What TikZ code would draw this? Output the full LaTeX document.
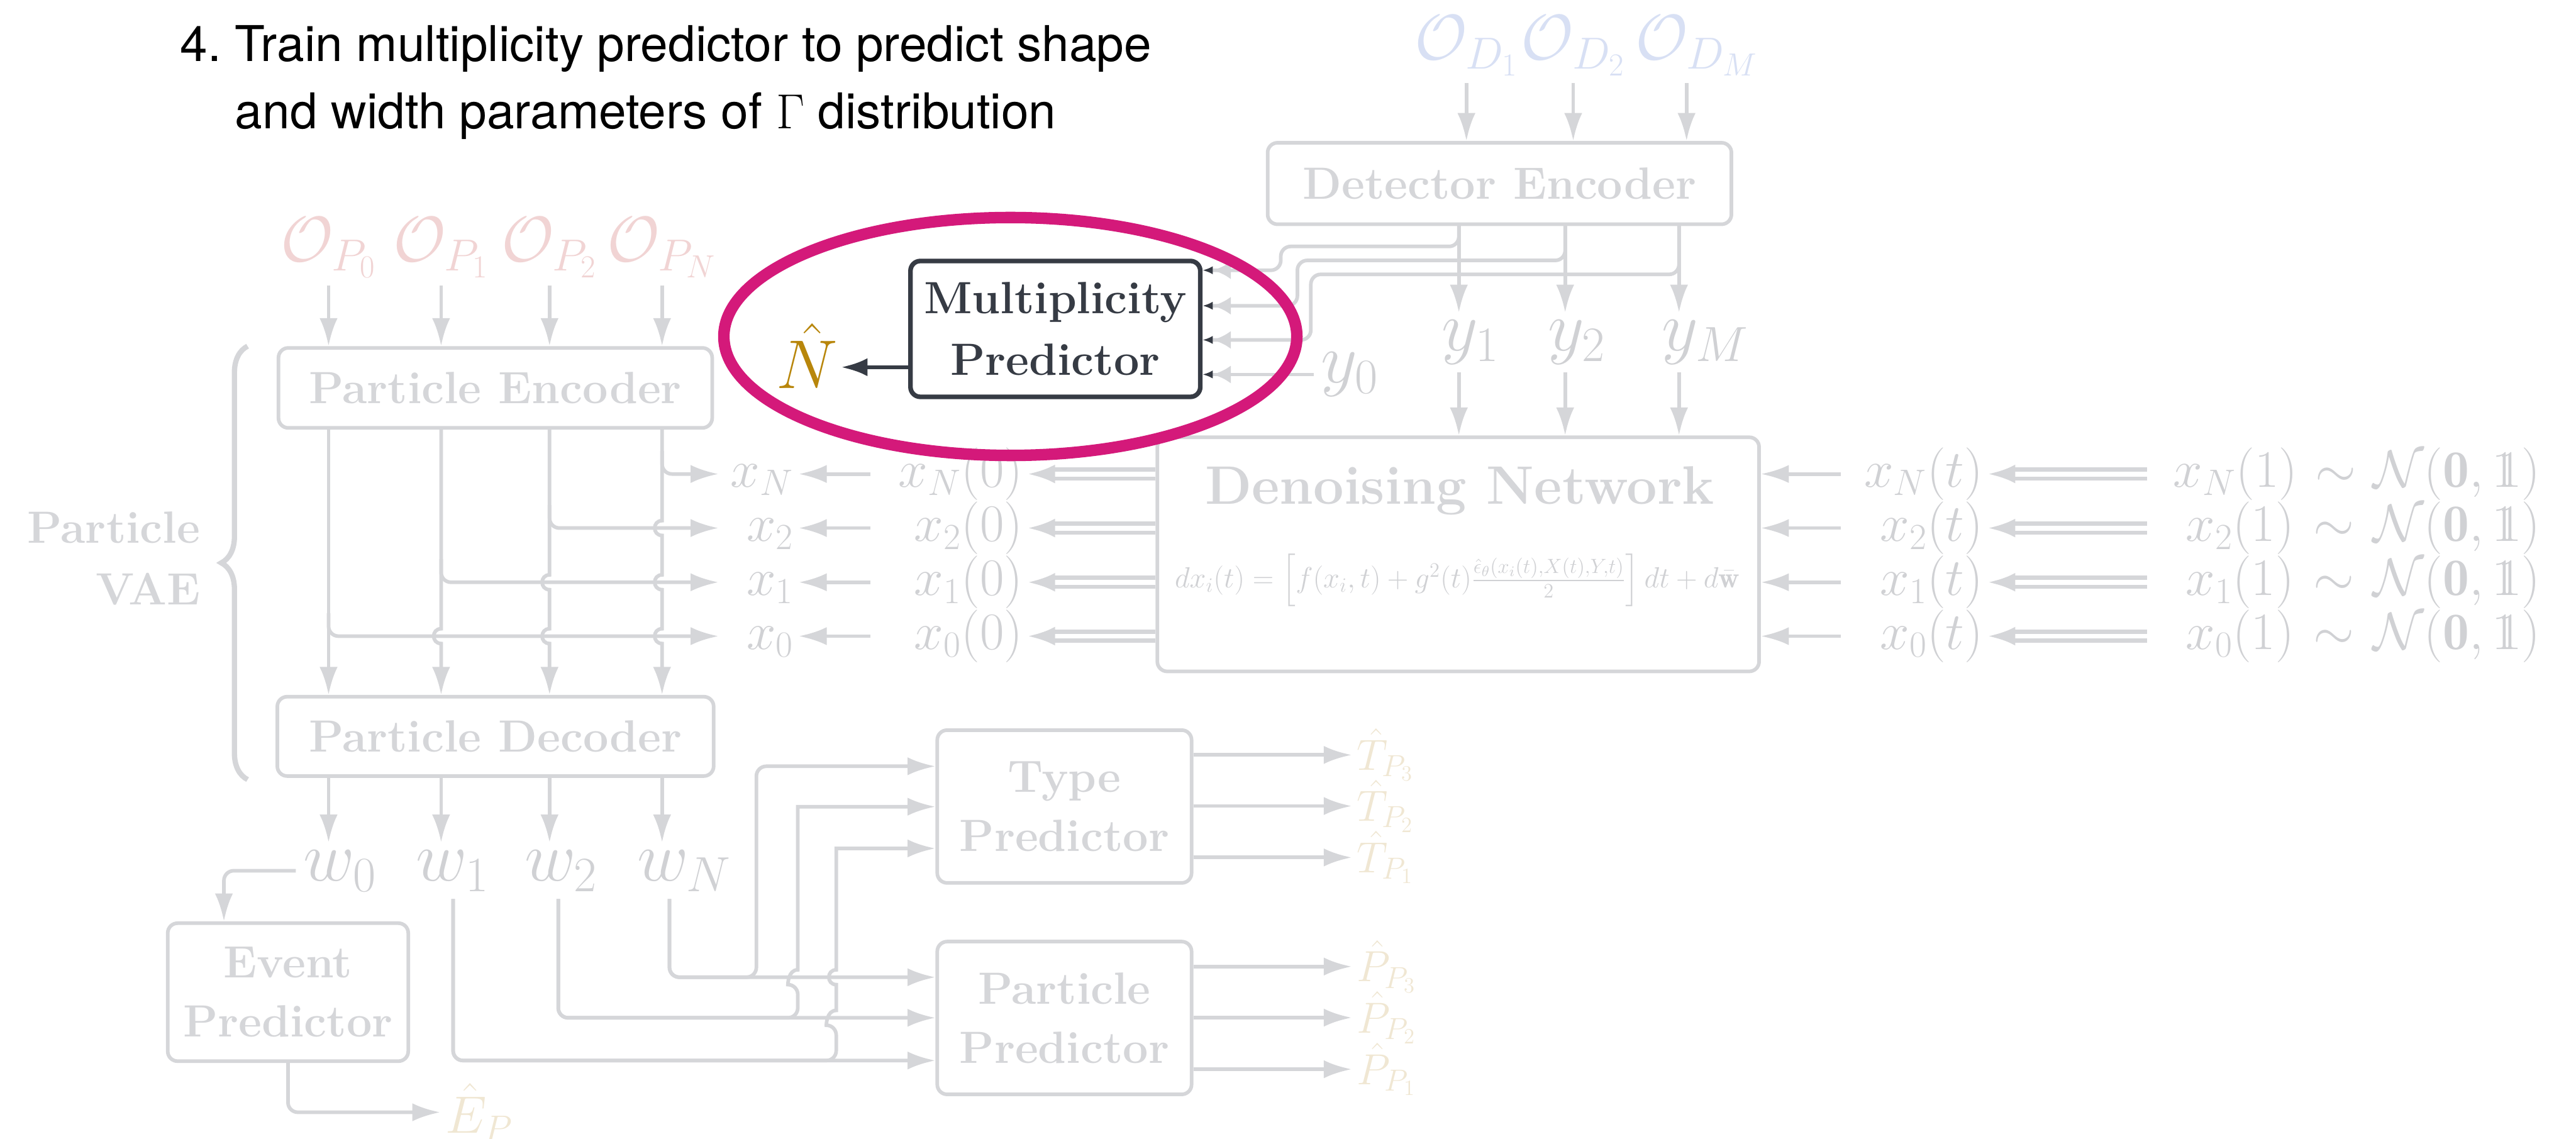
\RequirePackage{fix-cm}
\documentclass[tikz,border=0pt]{standalone}
\usepackage{amsmath,amssymb}
\usepackage{fontspec}
\newfontfamily\titlefont{TeX Gyre Heros}
\usepackage{tikz}
\usetikzlibrary{positioning,arrows.meta,calc,decorations.pathreplacing}
\newcommand{\dsone}{\mathrm{1\mkern-6.5mu1}}
\definecolor{fade}{HTML}{D5D6D9}
\definecolor{fadetext}{HTML}{D0D1D4}
\definecolor{pinkfade}{HTML}{F1D4D4}
\definecolor{bluefade}{HTML}{D8E0F4}
\definecolor{creamfade}{HTML}{F0E7D3}
\definecolor{goldc}{HTML}{B8860B}
\definecolor{darkc}{HTML}{363B44}
\definecolor{ringc}{HTML}{D4197A}
\tikzset{
  gbox/.style  ={rectangle, rounded corners=6pt, draw=fade, line width=2.2pt,
                 fill=white, text=fade, align=center, inner sep=2pt,
                 font=\bfseries\fontsize{27.5}{36}\selectfont},
  hbox/.style  ={gbox, draw=darkc, text=darkc, line width=2.8pt,
                 font=\bfseries\fontsize{27.5}{37.5}\selectfont},
  garr/.style  ={-{Latex[length=17pt,width=11pt]}, draw=fade, line width=2.2pt},
  dblarr/.style={-{Latex[length=16.5pt,width=11.5pt]}, draw=fade, line width=2.5pt,
                 double=white, double distance=3pt},
  inarr/.style ={-{Latex[length=11pt,width=11pt] Latex[length=6.2pt,width=5pt,color=darkc]},
                 draw=fade, line width=2.2pt},
  darr/.style  ={-{Latex[length=16pt,width=11pt]}, draw=darkc, line width=2.5pt},
  bigm/.style  ={text=fadetext, inner sep=4.5pt, font=\fontsize{43}{50}\selectfont},
  rowm/.style  ={text=fadetext, inner sep=3pt, align=right, font=\fontsize{32}{38}\selectfont},
  outm/.style  ={text=creamfade, inner sep=3pt, anchor=west, font=\fontsize{26.5}{30}\selectfont},
  hop/.style   ={insert path={.. controls +(-6,0) and +(-6,0) .. ++(0,9)}},
  hopup/.style ={insert path={.. controls +(-6,0) and +(-6,0) .. ++(0,-9)}},
}

\begin{document}
\begin{tikzpicture}[x=1pt, y=-1pt]
  \fill[white] (0,0) rectangle (1568,693);
  \useasboundingbox (0,0) rectangle (1568,693);

  % columns and rows
  \coordinate (c0) at (200,0);   \coordinate (c1) at (268.5,0);
  \coordinate (c2) at (334.5,0); \coordinate (c3) at (403,0);
  \coordinate (rN) at (0,288.5); \coordinate (r2) at (0,321.4);
  \coordinate (r1) at (0,354.4); \coordinate (r0) at (0,387.2);
  \coordinate (t1) at (892.6,0); \coordinate (t2) at (957.6,0); \coordinate (t3) at (1026.6,0);
  \coordinate (d1) at (888,0);   \coordinate (d2) at (952.7,0); \coordinate (d3) at (1022,0);
  \coordinate (mi1) at (0,164.5); \coordinate (mi2) at (0,186.1); \coordinate (mi3) at (0,206.9);
  \coordinate (nrow) at (0,223.5);
  \coordinate (o1) at (275.8,0); \coordinate (o2) at (339.8,0); \coordinate (oN) at (407.5,0);
  \coordinate (j1) at (460.4,0); \coordinate (j2) at (485.6,0); \coordinate (j3) at (509,0);
  \coordinate (ti1) at (0,466.4); \coordinate (ti2) at (0,491); \coordinate (ti3) at (0,516.4);
  \coordinate (pi1) at (0,594.8); \coordinate (pi2) at (0,619.5); \coordinate (pi3) at (0,645.5);
  \coordinate (e0) at (136.3,0);

  % title
  \node[anchor=base west, inner sep=0, font=\titlefont\fontsize{30}{40.8}\selectfont]
       (title) at (109.6,37.4) {\begin{tabular}[t]{@{}l@{\ }l@{}}
       4. & Train multiplicity predictor to predict shape\\
          & and width parameters of $\Gamma$ distribution\end{tabular}};

  % particle VAE
  \node[bigm, text=pinkfade, font=\fontsize{39}{46}\selectfont, anchor=base] (op0) at (200,159) {$\mathcal{O}_{P_0}$};
  \node[bigm, text=pinkfade, font=\fontsize{39}{46}\selectfont, anchor=base] (op1) at (268.5,159) {$\mathcal{O}_{P_1}$};
  \node[bigm, text=pinkfade, font=\fontsize{39}{46}\selectfont, anchor=base] (op2) at (334.5,159) {$\mathcal{O}_{P_2}$};
  \node[bigm, text=pinkfade, font=\fontsize{39}{46}\selectfont, anchor=base] (opN) at (403,159) {$\mathcal{O}_{P_N}$};
  \node[gbox, minimum width=264, minimum height=48.7] (pe) at (301.5,236.1) {Particle Encoder};
  \node[gbox, minimum width=265.6, minimum height=48.3] (pd) at (301.6,448.2) {Particle Decoder};
  \draw[draw=fade, line width=3.2pt, decorate, decoration={brace, amplitude=16pt}]
       (150.7,474.5) -- (150.7,210.7);
  \node[anchor=east, text=fade, align=right, inner sep=3pt,
        font=\bfseries\fontsize{27.5}{37.4}\selectfont] (vae) at (125,340) {Particle\\VAE};

  % latent rows
  \node[rowm, text width=42.4pt] (xN) at (461.8,288.5) {$\vphantom{(}x_N$};
  \node[rowm, text width=42.4pt] (x2) at (461.8,321.4) {$\vphantom{(}x_2$};
  \node[rowm, text width=42.4pt] (x1) at (461.8,354.4) {$\vphantom{(}x_1$};
  \node[rowm, text width=42.4pt] (x0) at (461.8,387.2) {$\vphantom{(}x_0$};
  \node[rowm, text width=89.5pt] (xN0) at (577.75,288.5) {$x_N(0)$};
  \node[rowm, text width=89.5pt] (x20) at (577.75,321.4) {$x_2(0)$};
  \node[rowm, text width=89.5pt] (x10) at (577.75,354.4) {$x_1(0)$};
  \node[rowm, text width=89.5pt] (x00) at (577.75,387.2) {$x_0(0)$};
  \node[rowm, text width=83.2pt] (xNt) at (1165.4,288.5) {$x_N(t)$};
  \node[rowm, text width=83.2pt] (x2t) at (1165.4,321.4) {$x_2(t)$};
  \node[rowm, text width=83.2pt] (x1t) at (1165.4,354.4) {$x_1(t)$};
  \node[rowm, text width=83.2pt] (x0t) at (1165.4,387.2) {$x_0(t)$};
  \node[rowm, text width=236pt, anchor=west] (xN1) at (1307,288.5) {$x_N(1) \sim \mathcal{N}(\mathbf{0},\dsone)$};
  \node[rowm, text width=236pt, anchor=west] (x21) at (1307,321.4) {$x_2(1) \sim \mathcal{N}(\mathbf{0},\dsone)$};
  \node[rowm, text width=236pt, anchor=west] (x11) at (1307,354.4) {$x_1(1) \sim \mathcal{N}(\mathbf{0},\dsone)$};
  \node[rowm, text width=236pt, anchor=west] (x01) at (1307,387.2) {$x_0(1) \sim \mathcal{N}(\mathbf{0},\dsone)$};

  % denoising network
  \node[gbox, minimum width=366.3, minimum height=142.5] (dn) at (887.6,337.4) {};
  \node[anchor=base, text=fade, inner sep=0, font=\bfseries\fontsize{33}{40}\selectfont]
       (dntitle) at (888.5,307) {Denoising Network};
  \node[text=fadetext, inner sep=0, font=\fontsize{17.8}{21}\selectfont] (sde) at (887,353.3)
       {$dx_i(t) = \left[f(x_i,t) + g^2(t)\frac{\hat{\epsilon}_\theta(x_i(t),X(t),Y,t)}{2}\right]dt + d\bar{\mathbf{w}}$};

  % detector side
  \node[bigm, text=bluefade, font=\fontsize{39}{46}\selectfont, anchor=base] (od1) at (892.6,36) {$\mathcal{O}_{D_1}$};
  \node[bigm, text=bluefade, font=\fontsize{39}{46}\selectfont, anchor=base] (od2) at (957.6,36) {$\mathcal{O}_{D_2}$};
  \node[bigm, text=bluefade, font=\fontsize{39}{46}\selectfont, anchor=base] (odM) at (1033,36) {$\mathcal{O}_{D_M}$};
  \node[gbox, minimum width=282.3, minimum height=49.6] (de) at (912.75,111.7) {Detector Encoder};
  \node[bigm, anchor=base west] (y1) at (873,213.5) {$y_1$};
  \node[bigm, anchor=base west] (y2) at (937.7,213.5) {$y_2$};
  \node[bigm, anchor=base west] (yM) at (1007,213.5) {$y_M$};
  \node[bigm, anchor=base west] (y0) at (799.5,233) {$y_0$};

  % multiplicity predictor
  \node[hbox, minimum width=176.4, minimum height=82.7] (mp) at (642.4,200.2) {Multiplicity\\Predictor};
  \node[text=goldc, anchor=base east, inner sep=2pt, font=\fontsize{42}{48}\selectfont]
       (nhat) at (512,236.5) {$\hat{N}$};

  % decoder outputs and heads
  \node[bigm, anchor=base west] (w0) at (180.1,536) {$w_0$};
  \node[bigm, anchor=base west] (w1) at (248.6,536) {$w_1$};
  \node[bigm, anchor=base west] (w2) at (314.6,536) {$w_2$};
  \node[bigm, anchor=base west] (wN) at (383.1,536) {$w_N$};
  \node[gbox, minimum width=146.4, minimum height=84] (ev) at (175.3,603.9) {Event\\Predictor};
  \node[gbox, minimum width=154.8, minimum height=93] (tp) at (647.9,490.9) {Type\\Predictor};
  \node[gbox, minimum width=154.8, minimum height=93] (pp) at (647.9,619.6) {Particle\\Predictor};
  \node[outm, font=\fontsize{32}{36}\selectfont] (ehat) at (268,677) {$\hat{E}_P$};
  \node[outm] (tp3) at (822.8,459.5) {$\hat{T}_{P_3}$};
  \node[outm] (tp2) at (822.8,490.6) {$\hat{T}_{P_2}$};
  \node[outm] (tp1) at (822.8,521.9) {$\hat{T}_{P_1}$};
  \node[outm] (pp3) at (822.8,588.3) {$\hat{P}_{P_3}$};
  \node[outm] (pp2) at (822.8,619.4) {$\hat{P}_{P_2}$};
  \node[outm] (pp1) at (822.8,650.8) {$\hat{P}_{P_1}$};

  % encoder in and through
  \draw[garr] (op0) -- (pe.north -| op0);
  \draw[garr] (op1) -- (pe.north -| op1);
  \draw[garr] (op2) -- (pe.north -| op2);
  \draw[garr] (opN) -- (pe.north -| opN);
  \draw[garr] (pe.south -| c0) -- (pd.north -| c0);
  \draw[garr] (pe.south -| c1) -- ($(c1 |- r0)+(0,-4.5)$) [hop] -- (pd.north -| c1);
  \draw[garr] (pe.south -| c2) -- ($(c2 |- r1)+(0,-4.5)$) [hop]
              -- ($(c2 |- r0)+(0,-4.5)$) [hop] -- (pd.north -| c2);
  \draw[garr] (pe.south -| c3) -- ($(c3 |- r2)+(0,-4.5)$) [hop]
              -- ($(c3 |- r1)+(0,-4.5)$) [hop] -- ($(c3 |- r0)+(0,-4.5)$) [hop] -- (pd.north -| c3);
  \draw[garr, rounded corners=6pt] ($(c3 |- rN)+(0,-14)$) |- (xN.west);
  \draw[garr, rounded corners=6pt] ($(c2 |- r2)+(0,-14)$) |- (x2.west);
  \draw[garr, rounded corners=6pt] ($(c1 |- r1)+(0,-14)$) |- (x1.west);
  \draw[garr, rounded corners=6pt] ($(c0 |- r0)+(0,-14)$) |- (x0.west);

  % rows
  \draw[garr] (xN0) -- (xN);   \draw[garr] (x20) -- (x2);
  \draw[garr] (x10) -- (x1);   \draw[garr] (x00) -- (x0);
  \draw[dblarr] (dn.west |- xN0) -- (xN0.east);  \draw[dblarr] (dn.west |- x20) -- (x20.east);
  \draw[dblarr] (dn.west |- x10) -- (x10.east);  \draw[dblarr] (dn.west |- x00) -- (x00.east);
  \draw[garr] (xNt) -- (dn.east |- xNt);  \draw[garr] (x2t) -- (dn.east |- x2t);
  \draw[garr] (x1t) -- (dn.east |- x1t);  \draw[garr] (x0t) -- (dn.east |- x0t);
  \draw[dblarr] (xN1.west) -- (xNt.east);  \draw[dblarr] (x21.west) -- (x2t.east);
  \draw[dblarr] (x11.west) -- (x1t.east);  \draw[dblarr] (x01.west) -- (x0t.east);

  % detector encoder
  \draw[garr] (t1 |- od1.south) -- (de.north -| t1);
  \draw[garr] (t2 |- od2.south) -- (de.north -| t2);
  \draw[garr] (t3 |- odM.south) -- (de.north -| t3);
  \draw[garr] (de.south -| d1) -- (d1 |- y1.north);
  \draw[garr] (de.south -| d2) -- (d2 |- y2.north);
  \draw[garr] (de.south -| d3) -- (d3 |- yM.north);
  \draw[garr] (d1 |- y1.south) -- (dn.north -| d1);
  \draw[garr] (d2 |- y2.south) -- (dn.north -| d2);
  \draw[garr] (d3 |- yM.south) -- (dn.north -| d3);

  % into the multiplicity predictor
  \draw[inarr, rounded corners=6pt] (de.south -| d1) |- (779.6,150) |- (mp.east |- mi1);
  \draw[inarr, rounded corners=6pt] (de.south -| d2) |- (789.7,158.5) |- (mp.east |- mi2);
  \draw[inarr, rounded corners=6pt] (de.south -| d3) |- (797.9,167) |- (mp.east |- mi3);
  \draw[inarr] (y0.west) -- (mp.east |- y0.west);
  \draw[darr] (mp.west |- nrow) -- (nhat.east |- nrow);

  % decoder to heads
  \draw[garr] (pd.south -| c0) -- (c0 |- w0.north);
  \draw[garr] (pd.south -| c1) -- (c1 |- w1.north);
  \draw[garr] (pd.south -| c2) -- (c2 |- w2.north);
  \draw[garr] (pd.south -| c3) -- (c3 |- wN.north);
  \draw[garr, rounded corners=6pt] (w0.west) -| (ev.north -| e0);
  \draw[garr, rounded corners=6pt] (ev.south) |- (ehat.west);
  \draw[garr, rounded corners=6pt] (oN |- wN.south) |- (pp.west |- pi1);
  \draw[garr, rounded corners=6pt] (oN |- wN.south) |- (j1 |- pi1) |- (tp.west |- ti1);
  \draw[garr, rounded corners=6pt] (o2 |- w2.south) |- (pp.west |- pi2);
  \draw[garr, rounded corners=6pt] (o2 |- w2.south) |- (j2 |- pi2) -- ($(j2 |- pi1)+(0,4.5)$)
       [sharp corners] [hopup] -- (j2 |- ti2) [rounded corners=6pt] -- (tp.west |- ti2);
  \draw[garr, rounded corners=6pt] (o1 |- w1.south) |- (pp.west |- pi3);
  \draw[garr, rounded corners=6pt] (o1 |- w1.south) |- (j3 |- pi3) -- ($(j3 |- pi2)+(0,4.5)$)
       [sharp corners] [hopup] -- ($(j3 |- pi1)+(0,4.5)$) [hopup]
       -- (j3 |- ti3) [rounded corners=6pt] -- (tp.west |- ti3);
  \draw[garr] (tp.east |- tp3) -- (tp3.west);
  \draw[garr] (tp.east |- tp2) -- (tp2.west);
  \draw[garr] (tp.east |- tp1) -- (tp1.west);
  \draw[garr] (pp.east |- pp3) -- (pp3.west);
  \draw[garr] (pp.east |- pp2) -- (pp2.west);
  \draw[garr] (pp.east |- pp1) -- (pp1.west);

  % highlight ring
  \draw[draw=ringc, line width=7pt] (615,204.8) ellipse [x radius=174.4, y radius=72.4];
\end{tikzpicture}
\end{document}
